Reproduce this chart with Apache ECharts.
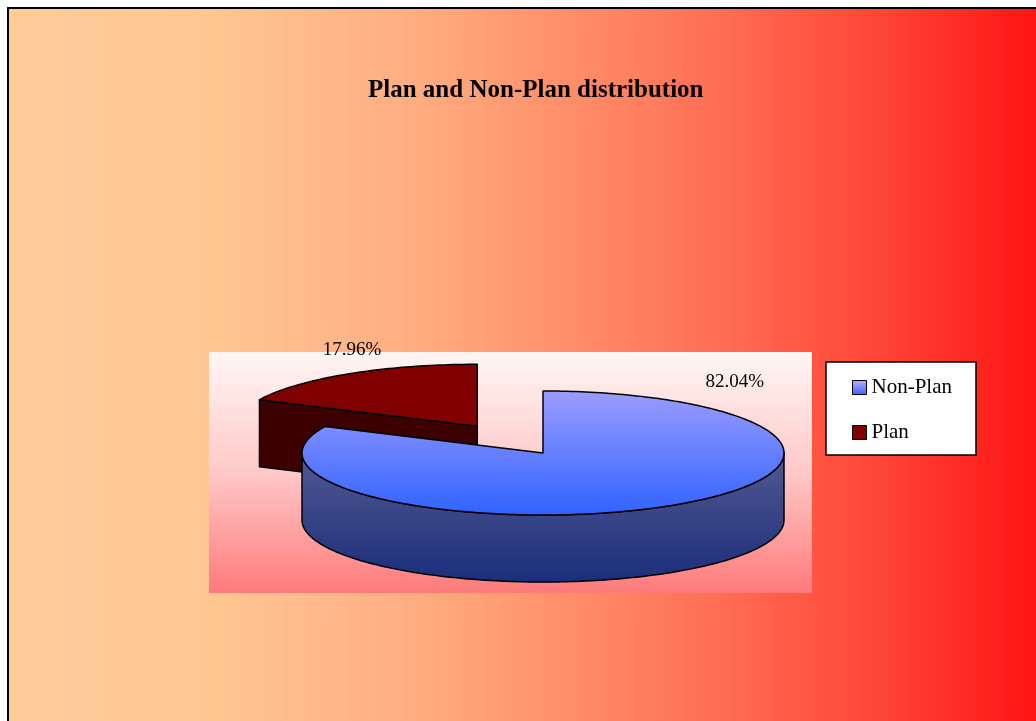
<!DOCTYPE html>
<html>
<head>
<meta charset="utf-8">
<title>Plan and Non-Plan distribution</title>
<script src="https://cdn.jsdelivr.net/npm/echarts@6.0.0/dist/echarts.min.js"></script>
<style>
  html, body { margin: 0; padding: 0; background: #fff; }
  #chart { width: 1036px; height: 721px; }
</style>
</head>
<body>
<div id="chart"></div>
<script>
var categories = ['Non-Plan', 'Plan']
var shares = [82.04, 17.96]
var explodeBy = [0, 0.51]

// tilted pie geometry (px)
var PIE = { cx: 543, cy: 453, rx: 241, ry: 62, depth: 67 }
// label anchor per slice: [degrees clockwise from 12 o'clock, radius factor]
var labelAnchor = [[34.8, 1.395], [337, 1.33]]

var FONT = 'Liberation Serif'
var topFill = [
  { type: 'linear', x: 0, y: 0, x2: 0, y2: 1, colorStops: [{ offset: 0, color: '#9c9cff' }, { offset: 1, color: '#2f63ff' }] },
  '#800000'
]
var wallFill = [
  { type: 'linear', x: 0, y: 0, x2: 0, y2: 1, colorStops: [{ offset: 0, color: '#545992' }, { offset: 1, color: '#1a2e7a' }] },
  '#3c0000'
]
var legendFill = [
  { type: 'linear', x: 0, y: 0, x2: 0, y2: 1, colorStops: [{ offset: 0, color: '#b4b4ff' }, { offset: 1, color: '#3f5fff' }] },
  '#800000'
]

function sliceAngles(i) {
  var total = shares.reduce(function (s, v) { return s + v }, 0)
  var before = 0
  for (var j = 0; j < i; j++) before += shares[j]
  return [before / total * 2 * Math.PI, (before + shares[i]) / total * 2 * Math.PI]
}

function pt(ox, oy, t, dz) {
  return [ox + PIE.rx * Math.sin(t), oy - PIE.ry * Math.cos(t) + dz]
}

function arc(ox, oy, t0, t1, dz) {
  var n = Math.max(8, Math.ceil((t1 - t0) / 0.02))
  var out = []
  for (var k = 0; k <= n; k++) out.push(pt(ox, oy, t0 + (t1 - t0) * k / n, dz))
  return out
}

function makeRenderItem(i) {
  return function (params, api) {
    var ang = sliceAngles(i)
    var a0 = ang[0], a1 = ang[1]
    var mid = (a0 + a1) / 2
    var ox = PIE.cx + explodeBy[i] * PIE.rx * Math.sin(mid)
    var oy = PIE.cy - explodeBy[i] * PIE.ry * Math.cos(mid)
    var d = PIE.depth
    var line = { stroke: '#000', lineWidth: 1.5, lineJoin: 'round' }
    var kids = []

    // radial cut faces turned towards the viewer
    if (Math.sin(a0) < -1e-6) {
      var e0 = pt(ox, oy, a0, 0)
      kids.push({ type: 'polygon', shape: { points: [[ox, oy], e0, [e0[0], e0[1] + d], [ox, oy + d]] },
        style: Object.assign({ fill: wallFill[i] }, line) })
    }
    if (Math.sin(a1) > 1e-6) {
      var e1 = pt(ox, oy, a1, 0)
      kids.push({ type: 'polygon', shape: { points: [[ox, oy], e1, [e1[0], e1[1] + d], [ox, oy + d]] },
        style: Object.assign({ fill: wallFill[i] }, line) })
    }
    // front part of the outer wall
    var lo = Math.max(a0, Math.PI / 2), hi = Math.min(a1, Math.PI * 1.5)
    if (lo < hi) {
      var wall = arc(ox, oy, lo, hi, 0).concat(arc(ox, oy, lo, hi, d).reverse())
      kids.push({ type: 'polygon', shape: { points: wall }, style: Object.assign({ fill: wallFill[i] }, line) })
    }
    // top face
    kids.push({ type: 'polygon', shape: { points: [[ox, oy]].concat(arc(ox, oy, a0, a1, 0)) },
      style: Object.assign({ fill: topFill[i] }, line) })

    // percentage label
    var la = labelAnchor[i][0] * Math.PI / 180, lr = labelAnchor[i][1]
    kids.push({ type: 'text',
      x: ox + lr * PIE.rx * Math.sin(la),
      y: oy - lr * PIE.ry * Math.cos(la),
      style: { text: api.value(0).toFixed(2) + '%', fill: '#000', font: '19px "' + FONT + '"',
        align: 'center', verticalAlign: 'middle', textAlign: 'center', textVerticalAlign: 'middle' } })

    return { type: 'group', children: kids }
  }
}

var chart = echarts.init(document.getElementById('chart'))

chart.setOption({
  animation: false,
  backgroundColor: '#fff',
  title: {
    text: 'Plan and Non-Plan distribution',
    left: 363,
    top: 73,
    textStyle: { fontFamily: FONT, fontWeight: 'bold', fontSize: 25, color: '#000' }
  },
  legend: {
    orient: 'vertical',
    left: 826,
    top: 362,
    padding: [15, 24, 12, 26],
    itemGap: 24,
    itemWidth: 14,
    itemHeight: 14,
    icon: 'rect',
    selectedMode: false,
    backgroundColor: '#fff',
    borderColor: '#000',
    borderWidth: 1.5,
    textStyle: { fontFamily: FONT, fontSize: 21, color: '#000' },
    data: categories.map(function (c, i) {
      return { name: c, itemStyle: { color: legendFill[i], borderColor: '#000', borderWidth: 1 } }
    })
  },
  graphic: [
    {
      type: 'rect', z: -20, silent: true,
      shape: { x: 8, y: 8, width: 1100, height: 800 },
      style: {
        fill: { type: 'linear', x: 0, y: 0, x2: 1036, y2: 0, global: true, colorStops: [
          { offset: 0, color: '#ffcc99' }, { offset: 0.2, color: '#ffc793' }, { offset: 0.4, color: '#ffad82' },
          { offset: 0.55, color: '#ff8e6a' }, { offset: 0.7, color: '#ff6c54' }, { offset: 0.85, color: '#ff4535' },
          { offset: 1, color: '#ff1414' }] },
        stroke: '#000', lineWidth: 2
      }
    },
    {
      type: 'rect', z: -10, silent: true,
      shape: { x: 209, y: 352, width: 603, height: 241 },
      style: {
        fill: { type: 'linear', x: 0, y: 0, x2: 0, y2: 1, colorStops: [
          { offset: 0, color: '#fff6f3' }, { offset: 0.5, color: '#ffc8c8' }, { offset: 1, color: '#ff7a7a' }] }
      }
    }
  ],
  // Plan sits behind Non-Plan, so it gets the lower z
  series: categories.map(function (c, i) {
    return {
      name: c,
      type: 'custom',
      coordinateSystem: 'none',
      z: 10 - i,
      itemStyle: { color: legendFill[i] },
      data: [{ name: c, value: shares[i] }],
      renderItem: makeRenderItem(i)
    }
  })
})
</script>
</body>
</html>
